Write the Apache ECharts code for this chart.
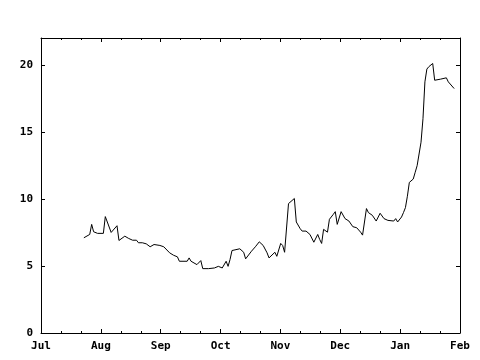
<!DOCTYPE html>
<html>
<head>
<meta charset="utf-8">
<script src="https://cdn.jsdelivr.net/npm/echarts@6/dist/echarts.min.js"></script>
<style>
  html, body { margin: 0; padding: 0; background: #fff; }
  #chart { width: 480px; height: 360px; }
</style>
</head>
<body>
<div id="chart"></div>
<script>
// month labels on the x axis (Jul 2000 .. Feb 2001)
var monthLabels = ['Jul', 'Aug', 'Sep', 'Oct', 'Nov', 'Dec', 'Jan', 'Feb']
var yTicks = [0, 5, 10, 15, 20]

var dates = [
  '2000-07-23', '2000-07-26', '2000-07-27', '2000-07-28', '2000-07-30',
  '2000-08-02', '2000-08-03', '2000-08-06', '2000-08-09', '2000-08-10',
  '2000-08-11', '2000-08-13', '2000-08-15', '2000-08-17', '2000-08-19',
  '2000-08-20', '2000-08-22', '2000-08-24', '2000-08-26', '2000-08-28',
  '2000-08-29', '2000-08-31', '2000-09-01', '2000-09-02', '2000-09-05',
  '2000-09-07', '2000-09-09', '2000-09-10', '2000-09-14', '2000-09-15',
  '2000-09-16', '2000-09-19', '2000-09-20', '2000-09-21', '2000-09-22',
  '2000-09-25', '2000-09-28', '2000-09-30', '2000-10-02', '2000-10-04',
  '2000-10-05', '2000-10-06', '2000-10-07', '2000-10-08', '2000-10-11',
  '2000-10-13', '2000-10-14', '2000-10-17', '2000-10-19', '2000-10-21',
  '2000-10-23', '2000-10-25', '2000-10-26', '2000-10-27', '2000-10-29',
  '2000-10-30', '2000-11-01', '2000-11-02', '2000-11-03', '2000-11-05',
  '2000-11-08', '2000-11-09', '2000-11-11', '2000-11-12', '2000-11-14',
  '2000-11-16', '2000-11-17', '2000-11-18', '2000-11-20', '2000-11-21',
  '2000-11-22', '2000-11-23', '2000-11-25', '2000-11-26', '2000-11-28',
  '2000-11-29', '2000-11-30', '2000-12-02', '2000-12-04', '2000-12-06',
  '2000-12-07', '2000-12-08', '2000-12-10', '2000-12-12', '2000-12-13',
  '2000-12-15', '2000-12-16', '2000-12-18', '2000-12-20', '2000-12-22',
  '2000-12-24', '2000-12-26', '2000-12-29', '2000-12-30', '2000-12-31',
  '2001-01-02', '2001-01-03', '2001-01-04', '2001-01-05', '2001-01-06',
  '2001-01-08', '2001-01-09', '2001-01-10', '2001-01-12', '2001-01-13',
  '2001-01-14', '2001-01-15', '2001-01-16', '2001-01-18', '2001-01-19',
  '2001-01-22', '2001-01-25', '2001-01-26', '2001-01-27', '2001-01-29'
]

var values = [
  7.1, 7.35, 8.1, 7.55, 7.43,
  7.43, 8.68, 7.5, 8.0, 6.9,
  6.9, 7.22, 7.05, 6.92, 6.92,
  6.73, 6.73, 6.65, 6.43, 6.6,
  6.68, 6.53, 6.65, 6.43, 5.98,
  5.8, 5.68, 5.35, 5.35, 5.6,
  5.35, 5.1, 5.05, 5.4, 4.8,
  4.8, 4.85, 4.97, 4.85, 5.35,
  4.97, 5.48, 6.15, 6.05, 6.28,
  6.02, 5.53, 6.1, 6.43, 6.8,
  6.53, 5.98, 5.6, 5.65, 6.02,
  5.72, 6.68, 6.53, 6.02, 9.65,
  10.03, 8.28, 7.78, 7.6, 7.6,
  7.35, 7.22, 6.77, 7.35, 6.98,
  6.68, 7.73, 7.52, 8.48, 8.85,
  9.05, 8.1, 9.05, 8.53, 8.35,
  8.23, 7.93, 7.85, 7.52, 7.3,
  9.28, 8.98, 8.78, 8.35, 8.93,
  8.53, 8.4, 8.35, 8.53, 8.28,
  8.65, 8.98, 9.35, 10.2, 11.23,
  11.48, 11.98, 12.48, 14.23, 15.98,
  18.73, 19.68, 19.86, 20.1, 18.85,
  18.93, 19.03, 18.73, 18.73, 18.23
]

var startDay = Date.UTC(2000, 6, 1)
var endDay = Date.UTC(2001, 1, 1)
var DAY = 86400000
var totalDays = (endDay - startDay) / DAY
var monthSpan = totalDays / 7

var seriesData = dates.map(function (d, i) {
  var p = d.split('-')
  var t = Date.UTC(+p[0], +p[1] - 1, +p[2])
  return [(t - startDay) / DAY, values[i]]
})

var font = {
  fontFamily: 'DejaVu Sans Mono',
  fontSize: 11,
  fontWeight: 'bold',
  color: '#000'
}

function xAxisCfg(pos, showLabel) {
  return {
    type: 'value',
    position: pos,
    min: 0,
    max: monthSpan * 7,
    interval: monthSpan,
    axisLine: { show: true, onZero: false, lineStyle: { color: '#000', width: 1 } },
    axisTick: { show: true, inside: true, length: 4, lineStyle: { color: '#000' } },
    minorTick: { show: true, splitNumber: 3, length: 2, lineStyle: { color: '#000' } },
    splitLine: { show: false },
    axisLabel: Object.assign({
      show: showLabel,
      margin: 8,
      formatter: function (v) {
        return monthLabels[Math.round(v / monthSpan)]
      }
    }, font)
  }
}

function yAxisCfg(pos, showLabel) {
  return {
    type: 'value',
    position: pos,
    min: 0,
    max: 22,
    interval: 5,
    axisLine: { show: true, onZero: false, lineStyle: { color: '#000', width: 1 } },
    axisTick: { show: true, inside: true, length: 4, lineStyle: { color: '#000' } },
    splitLine: { show: false },
    axisLabel: Object.assign({
      show: showLabel,
      margin: 8,
      showMaxLabel: false,
      formatter: function (v) {
        return yTicks.indexOf(v) >= 0 ? String(v) : ''
      }
    }, font)
  }
}

var chart = echarts.init(document.getElementById('chart'), null, { renderer: 'canvas' })

chart.setOption({
  animation: false,
  backgroundColor: '#fff',
  grid: {
    left: 41,
    right: 20,
    top: 38,
    bottom: 27,
    containLabel: false
  },
  xAxis: [xAxisCfg('bottom', true), xAxisCfg('top', false)],
  yAxis: [yAxisCfg('left', true), yAxisCfg('right', false)],
  series: [
    {
      type: 'line',
      data: seriesData,
      showSymbol: false,
      symbol: 'none',
      lineStyle: { color: '#000', width: 1 },
      itemStyle: { color: '#000' }
    }
  ]
})
</script>
</body>
</html>
